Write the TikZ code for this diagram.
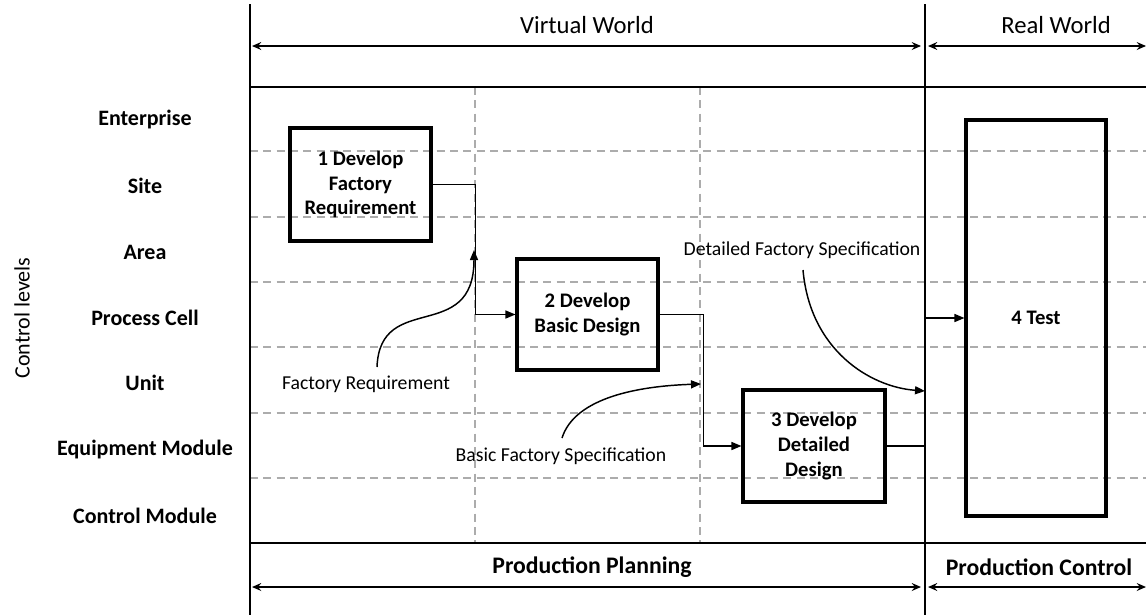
\documentclass[tikz,border=0pt]{standalone}
\usepackage{fontspec}
\setmainfont{Carlito}
\usetikzlibrary{arrows.meta}
\begin{document}
\begin{tikzpicture}[x=0.75pt,y=-0.75pt,
  frame/.style={line width=1.1pt,black},
  grid/.style={line width=1.1pt,color=gray!65,dash pattern=on 6pt off 4pt},
  box/.style={draw,line width=2.3pt,inner sep=0pt,align=center,font=\bfseries\fontsize{15.5}{18.5}\selectfont},
  lvl/.style={font=\bfseries\fontsize{16.5}{19}\selectfont},
  head/.style={font=\fontsize{18.5}{22}\selectfont},
  headb/.style={font=\bfseries\fontsize{17.8}{21}\selectfont},
  note/.style={font=\fontsize{14.8}{17}\selectfont,inner sep=1pt},
  span/.style={line width=1.1pt,{Stealth[length=7pt,width=6pt,inset=2.5pt]}-{Stealth[length=7pt,width=6pt,inset=2.5pt]}},
  conn/.style={line width=1.1pt,-{Triangle[length=7.5pt,width=6pt]}},
  curv/.style={line width=1.1pt,-{Triangle[length=7.5pt,width=6pt]}}]
\useasboundingbox (0,0) rectangle (1146,615);
% grid
\foreach \y in {151,217,282,347,413,478} \draw[grid] (250,\y) -- (1146,\y);
\foreach \x in {475,700} \draw[grid] (\x,87) -- (\x,543);
% frame
\draw[frame] (250,4) -- (250,615);
\draw[frame] (925,4) -- (925,615);
\draw[frame] (250,87) -- (1146,87);
\draw[frame] (250,543) -- (1146,543);
% spans
\coordinate (vl) at (252,46); \coordinate (vr) at (921,46);
\coordinate (rl) at (928,46); \coordinate (rr) at (1146,46);
\coordinate (pl) at (252,587); \coordinate (pr) at (921,587);
\coordinate (cl) at (928,587); \coordinate (cr) at (1146,587);
\draw[span] (vl) -- (vr);
\draw[span] (rl) -- (rr);
\draw[span] (pl) -- (pr);
\draw[span] (cl) -- (cr);
\node[head] (tvw) at (587,25) {Virtual World};
\node[head] (trw) at (1056,25) {Real World};
\node[headb] (tpp) at (592,567) {Production Planning};
\node[headb] (tpc) at (1039,567) {Production Control};
% levels
\node[lvl] (l1) at (145,120) {Enterprise};
\node[lvl] (l2) at (145,186) {Site};
\node[lvl] (l3) at (145,252) {Area};
\node[lvl] (l4) at (145,318) {Process Cell};
\node[lvl] (l5) at (145,383) {Unit};
\node[lvl] (l6) at (145,450) {Equipment Module};
\node[lvl] (l7) at (145,516) {Control Module};
\node[font=\fontsize{16.5}{19}\selectfont,rotate=90] (ctl) at (22,318) {Control levels};
% boxes
\node[box,minimum width=105.75pt,minimum height=84.75pt] (b1) at (360.5,184.5) {1 Develop\\Factory\\Requirement};
\node[box,minimum width=105.75pt,minimum height=83.25pt] (b2) at (587.5,314.5) {2 Develop\\Basic Design};
\node[box,minimum width=106.5pt,minimum height=84pt] (b3) at (814,446) {3 Develop\\Detailed\\Design};
\node[box,minimum width=105pt,minimum height=297pt] (b4) at (1036,318) {4 Test};
% connectors
\coordinate (j3) at (925,318);
\draw[conn] (b1.east) -- ++(43,0) |- (b2.west);
\draw[conn] (b2.east) -- ++(44,0) |- (b3.west);
\draw[conn] (b3.east) -| (j3) -- (b4.west);
% annotations
\node[note] (n1) at (366,384) {Factory Requirement};
\node[note] (n2) at (561,456) {Basic Factory Specification};
\node[note] (n3) at (802,250) {Detailed Factory Specification};
\coordinate (s1) at (377,367); \coordinate (e1) at (474,250);
\coordinate (s2) at (562,438); \coordinate (e2) at (701,384);
\coordinate (s3) at (803,270); \coordinate (e3) at (925,391);
\draw[curv] (s1) .. controls (380,290) and (474,345) .. (e1);
\draw[curv] (s2) .. controls (575,397) and (640,386) .. (e2);
\draw[curv] (s3) .. controls (810,350) and (870,387) .. (e3);
\end{tikzpicture}
\end{document}
